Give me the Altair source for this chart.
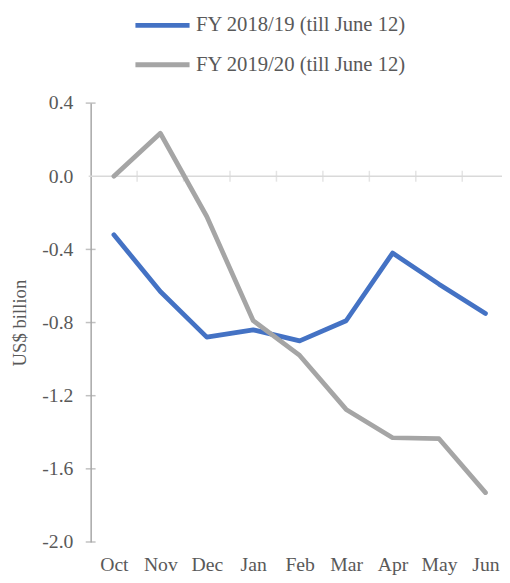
import altair as alt
import pandas as pd

months = ["Oct", "Nov", "Dec", "Jan", "Feb", "Mar", "Apr", "May", "Jun"]
fy1819 = [-0.32, -0.63, -0.88, -0.84, -0.90, -0.79, -0.42, -0.59, -0.75]
fy1920 = [0.0, 0.235, -0.22, -0.79, -0.98, -1.275, -1.43, -1.435, -1.73]
series_names = ["FY 2018/19 (till June 12)", "FY 2019/20 (till June 12)"]
series_colors = ["#4472C4", "#A5A5A5"]
y_ticks = [-2.0, -1.6, -1.2, -0.8, -0.4, 0.0, 0.4]

FONT = "Liberation Serif"
W, H = 418, 446

rows = []
for name, vals in zip(series_names, [fy1819, fy1920]):
    for i, (m, v) in enumerate(zip(months, vals)):
        rows.append({"idx": i, "month": m, "value": v, "series": name})
df = pd.DataFrame(rows)

x_scale = alt.Scale(domain=[-0.5, W / 47.2 - 0.5], nice=False, zero=False)
y_scale = alt.Scale(domain=[-2.0, 0.4], nice=False)

label_expr = "[" + ",".join("'%s'" % m for m in months) + "][datum.value]"

lines = alt.Chart(df).mark_line(strokeWidth=4.8, strokeCap="round", strokeJoin="round").encode(
    x=alt.X("idx:Q", scale=x_scale,
            axis=alt.Axis(values=list(range(len(months))), labelExpr=label_expr, title=None,
                          domain=False, ticks=False, grid=False, labelFont=FONT, labelFontSize=20,
                          labelColor="#595959", labelPadding=13)),
    y=alt.Y("value:Q", scale=y_scale,
            axis=alt.Axis(values=y_ticks, labelExpr="replace(format(datum.value, '.1f'), '\u2212', '-')",
                          title="US$ billion", titleFont=FONT, titleFontSize=19, titleFontWeight="normal",
                          titleColor="#595959", titlePadding=13, grid=False, ticks=False,
                          domainColor="#A6A6A6", domainWidth=1.5, labelFont=FONT, labelFontSize=20,
                          labelColor="#595959", labelPadding=18)),
    color=alt.Color("series:N", scale=alt.Scale(domain=series_names, range=series_colors),
                    legend=alt.Legend(orient="none", legendX=43, legendY=-109, title=None,
                                      symbolType="stroke", symbolSize=3025, symbolStrokeWidth=5,
                                      labelFont=FONT, labelFontSize=21, labelColor="#595959",
                                      labelLimit=500, labelOffset=4, rowPadding=-13)),
)

zero_df = pd.DataFrame({"y": [0.0]})
zero_line = alt.Chart(zero_df).mark_rule(color="#D9D9D9", strokeWidth=1.5).encode(
    y=alt.Y("y:Q", scale=y_scale), x=alt.value(-2), x2=alt.value(W)
)

bounds_df = pd.DataFrame({"b": [i + 0.5 for i in range(len(months) - 1)], "y": 0.0})
x_ticks = alt.Chart(bounds_df).mark_tick(color="#D9D9D9", thickness=1.5, size=11, orient="vertical").encode(
    x=alt.X("b:Q", scale=x_scale), y=alt.Y("y:Q", scale=y_scale)
)

yt_df = pd.DataFrame({"y": [t for t in y_ticks if t != 0.0]})
y_tick_marks = alt.Chart(yt_df).mark_tick(color="#A6A6A6", thickness=1.5, size=10, orient="horizontal").encode(
    y=alt.Y("y:Q", scale=y_scale), x=alt.value(0)
)

chart = alt.layer(zero_line, x_ticks, y_tick_marks, lines).properties(
    width=W, height=H,
    autosize=alt.AutoSizeParams(type="none"),
    padding={"left": 84, "top": 92, "right": 0, "bottom": 35},
).configure_view(stroke=None)

chart.save("out.html", embed_options={"renderer": "svg", "actions": False})
